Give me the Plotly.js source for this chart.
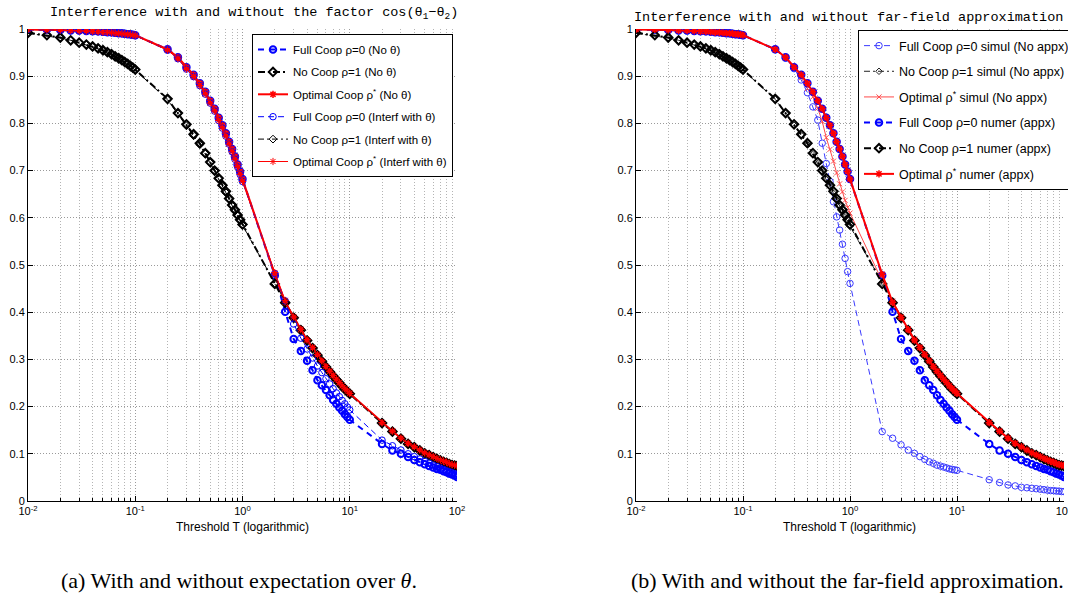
<!DOCTYPE html>
<html>
<head>
<meta charset="utf-8">
<script src="https://cdn.plot.ly/plotly-3.0.1.min.js"></script>
<style>html,body{margin:0;padding:0;background:#fff;}#chart{width:1068px;height:595px;}</style>
</head>
<body>
<div id="chart"></div>
<script>
// Threshold values T
const T = [0.01,0.015,0.02,0.025,0.03,0.035,0.04,0.045,0.05,0.055,0.06,0.065,0.07,0.075,0.08,0.085,0.09,0.095,0.1,
  0.2,0.25,0.3,0.35,0.4,0.45,0.5,0.55,0.6,0.65,0.7,0.75,0.8,0.85,0.9,0.95,1,
  2,2.5,3,3.5,4,4.5,5,5.5,6,6.5,7,7.5,8,8.5,9,9.5,10,
  20,25,30,35,40,45,50,55,60,65,70,75,80,85,90,95,100];

// (a) / (b) thick curves: no theta factor = far-field numeric approximation
const fullNoTheta = [0.999,0.999,0.998,0.997,0.997,0.996,0.995,0.995,0.994,0.993,0.993,0.992,0.991,0.991,0.990,0.989,0.989,0.988,0.987,
  0.957,0.940,0.919,0.903,0.885,0.867,0.848,0.831,0.812,0.796,0.779,0.761,0.746,0.730,0.713,0.698,0.682,
  0.478,0.401,0.343,0.318,0.297,0.277,0.256,0.245,0.235,0.224,0.214,0.206,0.198,0.191,0.184,0.178,0.172,
  0.121,0.107,0.100,0.093,0.087,0.082,0.078,0.074,0.071,0.068,0.066,0.063,0.061,0.058,0.056,0.054,0.051];
const noCoopNoTheta = [0.992,0.987,0.982,0.976,0.971,0.967,0.963,0.959,0.955,0.951,0.947,0.942,0.938,0.934,0.930,0.926,0.922,0.918,0.914,
  0.852,0.822,0.798,0.777,0.758,0.737,0.718,0.700,0.684,0.669,0.656,0.641,0.627,0.617,0.606,0.596,0.586,
  0.460,0.420,0.388,0.362,0.340,0.324,0.309,0.296,0.284,0.274,0.265,0.257,0.250,0.243,0.237,0.232,0.227,
  0.165,0.147,0.132,0.121,0.114,0.107,0.101,0.097,0.093,0.089,0.086,0.083,0.081,0.078,0.076,0.075,0.074];
const optNoTheta = [0.999,0.999,0.998,0.997,0.997,0.996,0.995,0.995,0.994,0.993,0.993,0.992,0.991,0.991,0.990,0.989,0.989,0.988,0.987,
  0.957,0.940,0.919,0.903,0.885,0.867,0.848,0.831,0.812,0.796,0.779,0.761,0.746,0.730,0.713,0.698,0.682,
  0.480,0.421,0.389,0.363,0.341,0.325,0.310,0.297,0.285,0.275,0.266,0.258,0.251,0.244,0.238,0.233,0.228,
  0.166,0.148,0.133,0.122,0.115,0.108,0.102,0.098,0.094,0.090,0.087,0.084,0.082,0.079,0.077,0.076,0.075];

// (a) thin curves: interference with theta
const fullTheta = [0.999,0.998,0.998,0.997,0.996,0.996,0.995,0.994,0.993,0.993,0.992,0.991,0.991,0.990,0.989,0.989,0.988,0.987,0.986,
  0.955,0.937,0.915,0.899,0.880,0.862,0.843,0.826,0.806,0.790,0.773,0.756,0.740,0.724,0.708,0.692,0.677,
  0.482,0.424,0.375,0.345,0.322,0.303,0.286,0.272,0.259,0.248,0.238,0.229,0.221,0.213,0.206,0.199,0.193,
  0.129,0.117,0.108,0.100,0.094,0.089,0.084,0.080,0.076,0.073,0.070,0.067,0.064,0.062,0.060,0.058,0.056];
const noCoopTheta = [0.991,0.986,0.981,0.976,0.971,0.966,0.962,0.958,0.954,0.950,0.946,0.942,0.937,0.933,0.929,0.925,0.921,0.917,0.913,
  0.850,0.820,0.795,0.774,0.755,0.735,0.716,0.698,0.682,0.667,0.653,0.639,0.625,0.614,0.604,0.594,0.584,
  0.462,0.422,0.390,0.364,0.342,0.325,0.310,0.297,0.285,0.275,0.266,0.258,0.251,0.244,0.238,0.233,0.228,
  0.166,0.148,0.133,0.122,0.115,0.108,0.102,0.098,0.094,0.090,0.087,0.084,0.082,0.079,0.077,0.076,0.075];
const optTheta = [0.999,0.998,0.998,0.997,0.996,0.996,0.995,0.994,0.993,0.993,0.992,0.991,0.991,0.990,0.989,0.989,0.988,0.987,0.986,
  0.955,0.937,0.915,0.899,0.880,0.862,0.843,0.826,0.806,0.790,0.773,0.756,0.740,0.724,0.708,0.692,0.677,
  0.484,0.425,0.390,0.364,0.342,0.325,0.310,0.297,0.285,0.275,0.266,0.258,0.251,0.244,0.238,0.233,0.228,
  0.166,0.148,0.133,0.122,0.115,0.108,0.102,0.098,0.094,0.090,0.087,0.084,0.082,0.079,0.077,0.076,0.075];

// (b) thin curves: simulation without approximation
const fullSimul = [0.999,0.999,0.998,0.997,0.996,0.996,0.995,0.994,0.994,0.993,0.992,0.991,0.991,0.990,0.989,0.988,0.988,0.987,0.986,
  0.956,0.938,0.916,0.892,0.865,0.835,0.807,0.758,0.715,0.677,0.634,0.602,0.574,0.544,0.514,0.486,0.461,
  0.147,0.133,0.119,0.108,0.101,0.094,0.088,0.083,0.080,0.076,0.074,0.072,0.070,0.068,0.067,0.066,0.065,
  0.045,0.039,0.034,0.032,0.029,0.028,0.027,0.026,0.025,0.024,0.023,0.022,0.022,0.021,0.021,0.020,0.020];
const noCoopSimul = [0.991,0.986,0.981,0.976,0.971,0.966,0.962,0.958,0.954,0.950,0.946,0.941,0.937,0.933,0.929,0.925,0.921,0.917,0.913,
  0.851,0.821,0.796,0.775,0.755,0.734,0.715,0.697,0.681,0.666,0.652,0.638,0.624,0.613,0.602,0.592,0.582,
  0.463,0.423,0.390,0.364,0.342,0.325,0.310,0.297,0.285,0.275,0.266,0.258,0.251,0.244,0.238,0.233,0.228,
  0.166,0.148,0.133,0.122,0.115,0.108,0.102,0.098,0.094,0.090,0.087,0.084,0.082,0.079,0.077,0.076,0.075];
const optSimul = [0.999,0.999,0.998,0.997,0.996,0.996,0.995,0.994,0.994,0.993,0.992,0.991,0.991,0.990,0.989,0.988,0.988,0.987,0.986,
  0.957,0.939,0.917,0.897,0.874,0.856,0.832,0.804,0.770,0.745,0.720,0.695,0.672,0.655,0.637,0.622,0.610,
  0.466,0.424,0.391,0.365,0.343,0.326,0.311,0.298,0.286,0.276,0.267,0.259,0.252,0.245,0.239,0.234,0.229,
  0.167,0.149,0.134,0.123,0.116,0.109,0.103,0.099,0.095,0.091,0.088,0.085,0.083,0.080,0.078,0.077,0.076];

const majorTicks = [0.01,0.1,1,10,100];
const majorText = ['10<sup>-2</sup>','10<sup>-1</sup>','10<sup>0</sup>','10<sup>1</sup>','10<sup>2</sup>'];
const minorTicks = [];
[0.01,0.1,1,10].forEach(d => { for (let k = 2; k <= 9; k++) minorTicks.push(+(d*k).toPrecision(3)); });
const yTicks = [0,0.1,0.2,0.3,0.4,0.5,0.6,0.7,0.8,0.9,1];
const yText = ['0','0.1','0.2','0.3','0.4','0.5','0.6','0.7','0.8','0.9','1'];

const legendA = ['Full Coop ρ=0 (No θ)','No Coop ρ=1 (No θ)','Optimal Coop ρ<sup>*</sup> (No θ)',
  'Full Coop ρ=0 (Interf with θ)','No Coop ρ=1 (Interf with θ)','Optimal Coop ρ<sup>*</sup> (Interf with θ)'];
const legendB = ['Full Coop ρ=0 simul (No appx)','No Coop ρ=1 simul (No appx)','Optimal ρ<sup>*</sup> simul (No appx)',
  'Full Coop ρ=0 numer (appx)','No Coop ρ=1 numer (appx)','Optimal ρ<sup>*</sup> numer (appx)'];

const styles = {
  blueThick:  {line:{color:'#0000ff', width:2, dash:'6px,5px'}, marker:{symbol:'circle-open', size:6.5, color:'#0000ff', line:{width:2, color:'#0000ff'}}},
  blackThick: {line:{color:'#000000', width:2, dash:'7px,3px,2px,3px'}, marker:{symbol:'diamond-open', size:6.5, color:'#000000', line:{width:2, color:'#000000'}}},
  redThick:   {line:{color:'#ff0000', width:2}, marker:{symbol:'asterisk-open', size:6, color:'#ff0000', line:{width:1.5, color:'#ff0000'}}},
  blueThin:   {line:{color:'#0000ff', width:1, dash:'6px,4px'}, marker:{symbol:'circle-open', size:6.5, color:'#0000ff', line:{width:1, color:'#0000ff'}}},
  blackThin:  {line:{color:'#000000', width:1, dash:'6px,3px,2px,3px'}, marker:{symbol:'diamond-open', size:6, color:'#000000', line:{width:1, color:'#000000'}}},
  redThin:    {line:{color:'#ff0000', width:1}, marker:{symbol:'asterisk-open', size:6, color:'#ff0000', line:{width:1, color:'#ff0000'}}},
  blueSim:    {line:{color:'#3a3aff', width:1, dash:'6px,4px'}, marker:{symbol:'circle-open', size:6.5, color:'#3a3aff', line:{width:1, color:'#3a3aff'}}},
  blackSim:   {line:{color:'#222222', width:1, dash:'6px,3px,2px,3px'}, marker:{symbol:'diamond-open', size:5, color:'#222222', line:{width:1, color:'#222222'}}},
  redSim:     {line:{color:'#ff4a4a', width:1}, marker:{symbol:'x-thin-open', size:5, color:'#ff4a4a', line:{width:1, color:'#ff4a4a'}}}
};

function tr(y, name, st, side, idx) {
  const s = styles[st];
  return {x: T, y: y, name: name, type: 'scatter', mode: 'lines+markers',
    line: s.line, marker: s.marker,
    xaxis: side === 'a' ? 'x' : 'x2', yaxis: side === 'a' ? 'y' : 'y2',
    legend: side === 'a' ? 'legend' : 'legend2', legendgroup: side + idx, showlegend: true, hoverinfo: 'skip'};
}

const data = [
  tr(fullNoTheta, legendA[0], 'blueThick', 'a', 0),
  tr(noCoopNoTheta, legendA[1], 'blackThick', 'a', 1),
  tr(optNoTheta, legendA[2], 'redThick', 'a', 2),
  tr(fullTheta, legendA[3], 'blueThin', 'a', 3),
  tr(noCoopTheta, legendA[4], 'blackThin', 'a', 4),
  tr(optTheta, legendA[5], 'redThin', 'a', 5),
  tr(fullSimul, legendB[0], 'blueSim', 'b', 0),
  tr(noCoopSimul, legendB[1], 'blackSim', 'b', 1),
  tr(optSimul, legendB[2], 'redSim', 'b', 2),
  tr(fullNoTheta, legendB[3], 'blueThick', 'b', 3),
  tr(noCoopNoTheta, legendB[4], 'blackThick', 'b', 4),
  tr(optNoTheta, legendB[5], 'redThick', 'b', 5)
];

const W = 1068, H = 595;
const tickFont = {family: 'Liberation Sans, Arial, sans-serif', size: 11, color: '#000'};
const gridDash = '1px,2px';
function xax(d0, d1) {
  return {type: 'log', range: [-2, 2], domain: [d0 / W, d1 / W], tickmode: 'array', tickvals: majorTicks, ticktext: majorText,
    ticks: 'inside', ticklen: 5, tickcolor: '#000', showline: true, linecolor: '#000', linewidth: 1,
    showgrid: true, gridcolor: '#9a9a9a', griddash: gridDash, gridwidth: 1, zeroline: false, tickfont: tickFont,
    ticklabeloverflow: 'allow',
    minor: {tickmode: 'array', tickvals: minorTicks, ticks: 'inside', ticklen: 3, tickcolor: '#000', showgrid: true, gridcolor: '#b4b4b4', griddash: gridDash, gridwidth: 1},
    fixedrange: true};
}
function yax(anchor) {
  return {range: [0, 1], domain: [(H - 501) / H, (H - 29) / H], anchor: anchor, tickmode: 'array', tickvals: yTicks, ticktext: yText,
    ticks: 'inside', ticklen: 5, tickcolor: '#000', showline: true, linecolor: '#000', linewidth: 1,
    showgrid: true, gridcolor: '#9a9a9a', griddash: gridDash, gridwidth: 1, zeroline: false, tickfont: tickFont, fixedrange: true};
}

const layout = {
  width: W, height: H, margin: {l: 0, r: 0, t: 0, b: 0, autoexpand: false},
  paper_bgcolor: '#fff', plot_bgcolor: '#fff', showlegend: true,
  xaxis: xax(28, 457), yaxis: yax('x'),
  xaxis2: xax(636, 1064), yaxis2: yax('x2'),
  legend: {x: 252 / W, xanchor: 'left', y: 1 - 34 / H, yanchor: 'top', bgcolor: '#fff', bordercolor: '#000', borderwidth: 1,
    font: {family: 'Liberation Sans, Arial, sans-serif', size: 11.5, color: '#000'}, itemwidth: 30, traceorder: 'grouped', tracegroupgap: 3.4},
  legend2: {x: 858 / W, xanchor: 'left', y: 1 - 30 / H, yanchor: 'top', bgcolor: '#fff', bordercolor: '#000', borderwidth: 1,
    font: {family: 'Liberation Sans, Arial, sans-serif', size: 12.5, color: '#000'}, itemwidth: 30, traceorder: 'grouped', tracegroupgap: 6.4},
  annotations: [
    {text: 'Interference with and without the factor cos(θ<sub>1</sub>−θ<sub>2</sub>)', xref: 'paper', yref: 'paper', x: 254 / W, y: 1 - 13 / H,
      xanchor: 'center', yanchor: 'middle', showarrow: false, font: {family: 'Liberation Mono, Courier New, monospace', size: 13.5, color: '#000'}},
    {text: 'Interference with and without far-field approximation', xref: 'paper', yref: 'paper', x: 848.5 / W, y: 1 - 17 / H,
      xanchor: 'center', yanchor: 'middle', showarrow: false, font: {family: 'Liberation Mono, Courier New, monospace', size: 13.5, color: '#000'}},
    {text: 'Threshold T (logarithmic)', xref: 'paper', yref: 'paper', x: 242 / W, y: 1 - 527 / H,
      xanchor: 'center', yanchor: 'middle', showarrow: false, font: {family: 'Liberation Sans, Arial, sans-serif', size: 12, color: '#000'}},
    {text: 'Threshold T (logarithmic)', xref: 'paper', yref: 'paper', x: 850 / W, y: 1 - 527 / H,
      xanchor: 'center', yanchor: 'middle', showarrow: false, font: {family: 'Liberation Sans, Arial, sans-serif', size: 12, color: '#000'}},
    {text: '(a) With and without expectation over <i>θ</i>.', xref: 'paper', yref: 'paper', x: 239 / W, y: 1 - 580 / H,
      xanchor: 'center', yanchor: 'middle', showarrow: false, font: {family: 'Liberation Serif, Times New Roman, serif', size: 22, color: '#000'}},
    {text: '(b) With and without the far-field approximation.', xref: 'paper', yref: 'paper', x: 847.5 / W, y: 1 - 580 / H,
      xanchor: 'center', yanchor: 'middle', showarrow: false, font: {family: 'Liberation Serif, Times New Roman, serif', size: 22, color: '#000'}}
  ]
};

Plotly.newPlot('chart', data, layout, {staticPlot: true, displayModeBar: false});
</script>
</body>
</html>
